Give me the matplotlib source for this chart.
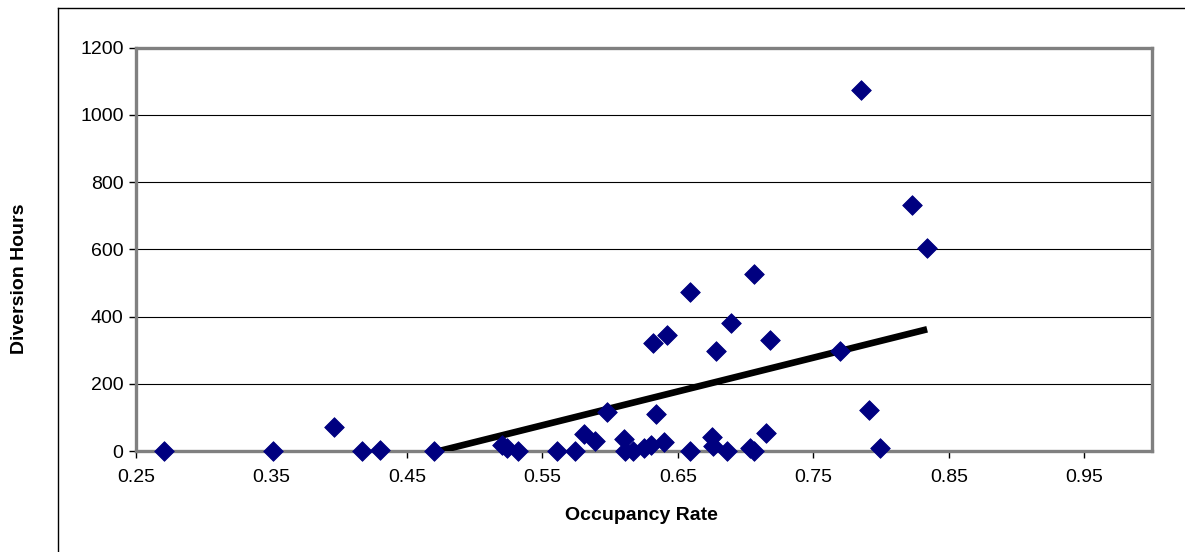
import numpy as np
import matplotlib
matplotlib.use("Agg")
import matplotlib.pyplot as plt
from matplotlib.lines import Line2D

plt.rcParams['font.family'] = ['Liberation Sans', 'DejaVu Sans']

occupancy = [0.271, 0.351, 0.396, 0.417, 0.430, 0.470, 0.520, 0.524, 0.532,
             0.561, 0.574, 0.581, 0.589, 0.598, 0.610, 0.611, 0.617, 0.625,
             0.630, 0.632, 0.634, 0.640, 0.642, 0.659, 0.659, 0.675, 0.676,
             0.678, 0.686, 0.689, 0.703, 0.706, 0.706, 0.715, 0.718, 0.770,
             0.785, 0.791, 0.799, 0.823, 0.834]
diversion_hours = [0, 0, 70, 0, 3, 0, 18, 8, 0,
                   0, 0, 50, 31, 117, 35, 0, 0, 8,
                   18, 322, 109, 26, 345, 474, 0, 43, 15,
                   298, 0, 382, 8, 0, 528, 55, 330, 298,
                   1074, 123, 10, 732, 603]

x_ticks = [0.25, 0.35, 0.45, 0.55, 0.65, 0.75, 0.85, 0.95]
x_tick_labels = ['0.25', '0.35', '0.45', '0.55', '0.65', '0.75', '0.85', '0.95']
y_ticks = [0, 200, 400, 600, 800, 1000, 1200]
y_tick_labels = ['0', '200', '400', '600', '800', '1000', '1200']

W, H = 1185, 552
fig = plt.figure(figsize=(W / 100, H / 100), dpi=100)
fig.patch.set_facecolor('white')

# outer chart frame (left and top edges visible)
fig.add_artist(Line2D([58 / W, 58 / W], [0, 1 - 8 / H], transform=fig.transFigure,
                      color='black', lw=1.0))
fig.add_artist(Line2D([58 / W, 1], [1 - 8 / H, 1 - 8 / H], transform=fig.transFigure,
                      color='black', lw=1.0))

left, right, top, bottom = 136, 1152, 47.7, 451
ax = fig.add_axes([left / W, 1 - bottom / H, (right - left) / W, (bottom - top) / H])
ax.set_facecolor('white')

x = np.array(occupancy)
y = np.array(diversion_hours)

for gy in y_ticks[1:-1]:
    ax.axhline(gy, color='black', lw=0.8, zorder=1)

# linear trendline
slope, intercept = np.polyfit(x, y, 1)
tx = np.array([x.min(), x.max()])
ax.plot(tx, slope * tx + intercept, color='black', lw=4.8, solid_capstyle='butt', zorder=3)

ax.scatter(x, y, marker='D', s=100, color='#000080', edgecolors='#000080',
           linewidths=0.6, zorder=4, clip_on=False)

ax.set_xlim(0.25, 1.0)
ax.set_ylim(0, 1200)
ax.set_xticks(x_ticks)
ax.set_xticklabels(x_tick_labels)
ax.set_yticks(y_ticks)
ax.set_yticklabels(y_tick_labels)

for s in ['top', 'left', 'right', 'bottom']:
    ax.spines[s].set_color('#808080')
    ax.spines[s].set_linewidth(2.4)
ax.axhline(0, color='black', lw=1.0, zorder=2, clip_on=False)

ax.tick_params(axis='both', direction='out', length=5, width=1, color='black',
               labelsize=14, labelcolor='black')
ax.tick_params(axis='x', pad=8)
ax.tick_params(axis='y', pad=4)

fig.text(641 / W, 1 - 515 / H, 'Occupancy Rate', ha='center', va='center',
         fontsize=14, fontweight='bold')
fig.text(19.5 / W, 1 - 279 / H, 'Diversion Hours', ha='center', va='center',
         rotation=90, fontsize=14, fontweight='bold')

fig.savefig('out.png', dpi=100, facecolor='white')
